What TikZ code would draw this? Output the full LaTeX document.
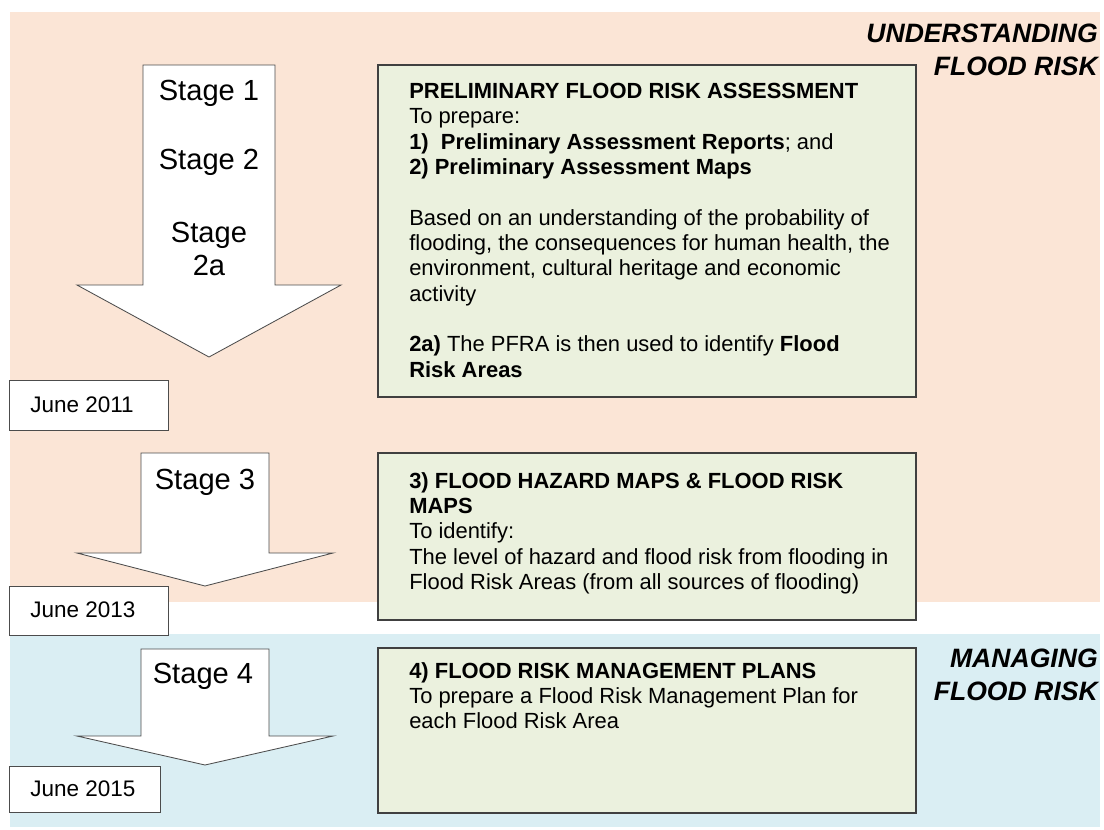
\documentclass[tikz,border=0pt]{standalone}
\usepackage{fontspec}
\setmainfont{Liberation Sans}
\usepackage{xcolor}
\usepackage{tikz}

\definecolor{peach}{HTML}{FBE5D6}
\definecolor{paleblue}{HTML}{DAEEF3}
\definecolor{palegreen}{HTML}{EBF1DE}

\begin{document}
\begin{tikzpicture}[x=0.025cm,y=-0.025cm,
    stagearrow/.style={draw=black!70,fill=white,line width=0.6pt},
    datebox/.style={draw=black!70,fill=white,line width=0.6pt},
    taskbox/.style={draw=black!75,fill=palegreen,line width=0.8pt},
    stagetext/.style={font=\fontsize{20.7}{24}\selectfont,align=center},
    datetext/.style={font=\fontsize{16}{18}\selectfont,anchor=west,inner sep=0pt},
    tasktext/.style={font=\fontsize{15.6}{18}\selectfont,anchor=north west,align=left,inner sep=0pt},
    bandtitle/.style={font=\fontsize{18.9}{23.5}\selectfont\bfseries\itshape,anchor=east,align=right,inner sep=0pt}]
    \useasboundingbox (0,0) rectangle (1104,829);

    % bands
    \fill[peach] (10,12) rectangle (1100,602);
    \fill[paleblue] (10,634) rectangle (1100,827);
    \node[bandtitle] (understand) at (1098,50) {UNDERSTANDING\\FLOOD RISK};
    \node[bandtitle] (manage) at (1098,675) {MANAGING\\FLOOD RISK};

    % Stages 1, 2 and 2a
    \draw[stagearrow] (143,65) -- (275,65) -- (275,285) -- (341,285) -- (209,357)
        -- (77,285) -- (143,285) -- cycle;
    \node[stagetext] (s1) at (209,93) {Stage 1};
    \node[stagetext] (s2) at (209,162) {Stage 2};
    \node[stagetext] (s2a) at (209,249) {Stage\\2a};
    \draw[datebox] (9,380) rectangle (168,430);
    \node[datetext] (d1) at (30,405) {June 2011};
    \draw[taskbox] (378,65) rectangle (916,397);
    \node[tasktext] (pfra) at (409,83) {\textbf{PRELIMINARY FLOOD RISK ASSESSMENT}\\
        To prepare:\\
        \textbf{1)\ \ Preliminary Assessment Reports}; and\\
        \textbf{2) Preliminary Assessment Maps}\\[18pt]
        Based on an understanding of the probability of\\
        flooding, the consequences for human health, the\\
        environment, cultural heritage and economic\\
        activity\\[18pt]
        \textbf{2a)} The PFRA is then used to identify \textbf{Flood}\\
        \textbf{Risk Areas}};

    % Stage 3
    \draw[stagearrow] (141,453) -- (269,453) -- (269,553) -- (333,553) -- (205,586)
        -- (77,553) -- (141,553) -- cycle;
    \node[stagetext] (s3) at (205,482) {Stage 3};
    \draw[datebox] (9,586) rectangle (168,635);
    \node[datetext] (d3) at (30,610) {June 2013};
    \draw[taskbox] (378,453) rectangle (916,620);
    \node[tasktext] (maps) at (409,472) {\textbf{3) FLOOD HAZARD MAPS \& FLOOD RISK}\\
        \textbf{MAPS}\\
        To identify:\\
        The level of hazard and flood risk from flooding in\\
        Flood Risk Areas (from all sources of flooding)};

    % Stage 4
    \draw[stagearrow] (141,649) -- (269,649) -- (269,736) -- (333,736) -- (205,765)
        -- (77,736) -- (141,736) -- cycle;
    \node[stagetext] (s4) at (203,676) {Stage 4};
    \draw[datebox] (9,766) rectangle (160,812);
    \node[datetext] (d4) at (30,789) {June 2015};
    \draw[taskbox] (378,648) rectangle (916,813);
    \node[tasktext] (plans) at (409,662) {\textbf{4) FLOOD RISK MANAGEMENT PLANS}\\
        To prepare a Flood Risk Management Plan for\\
        each Flood Risk Area};
\end{tikzpicture}
\end{document}
